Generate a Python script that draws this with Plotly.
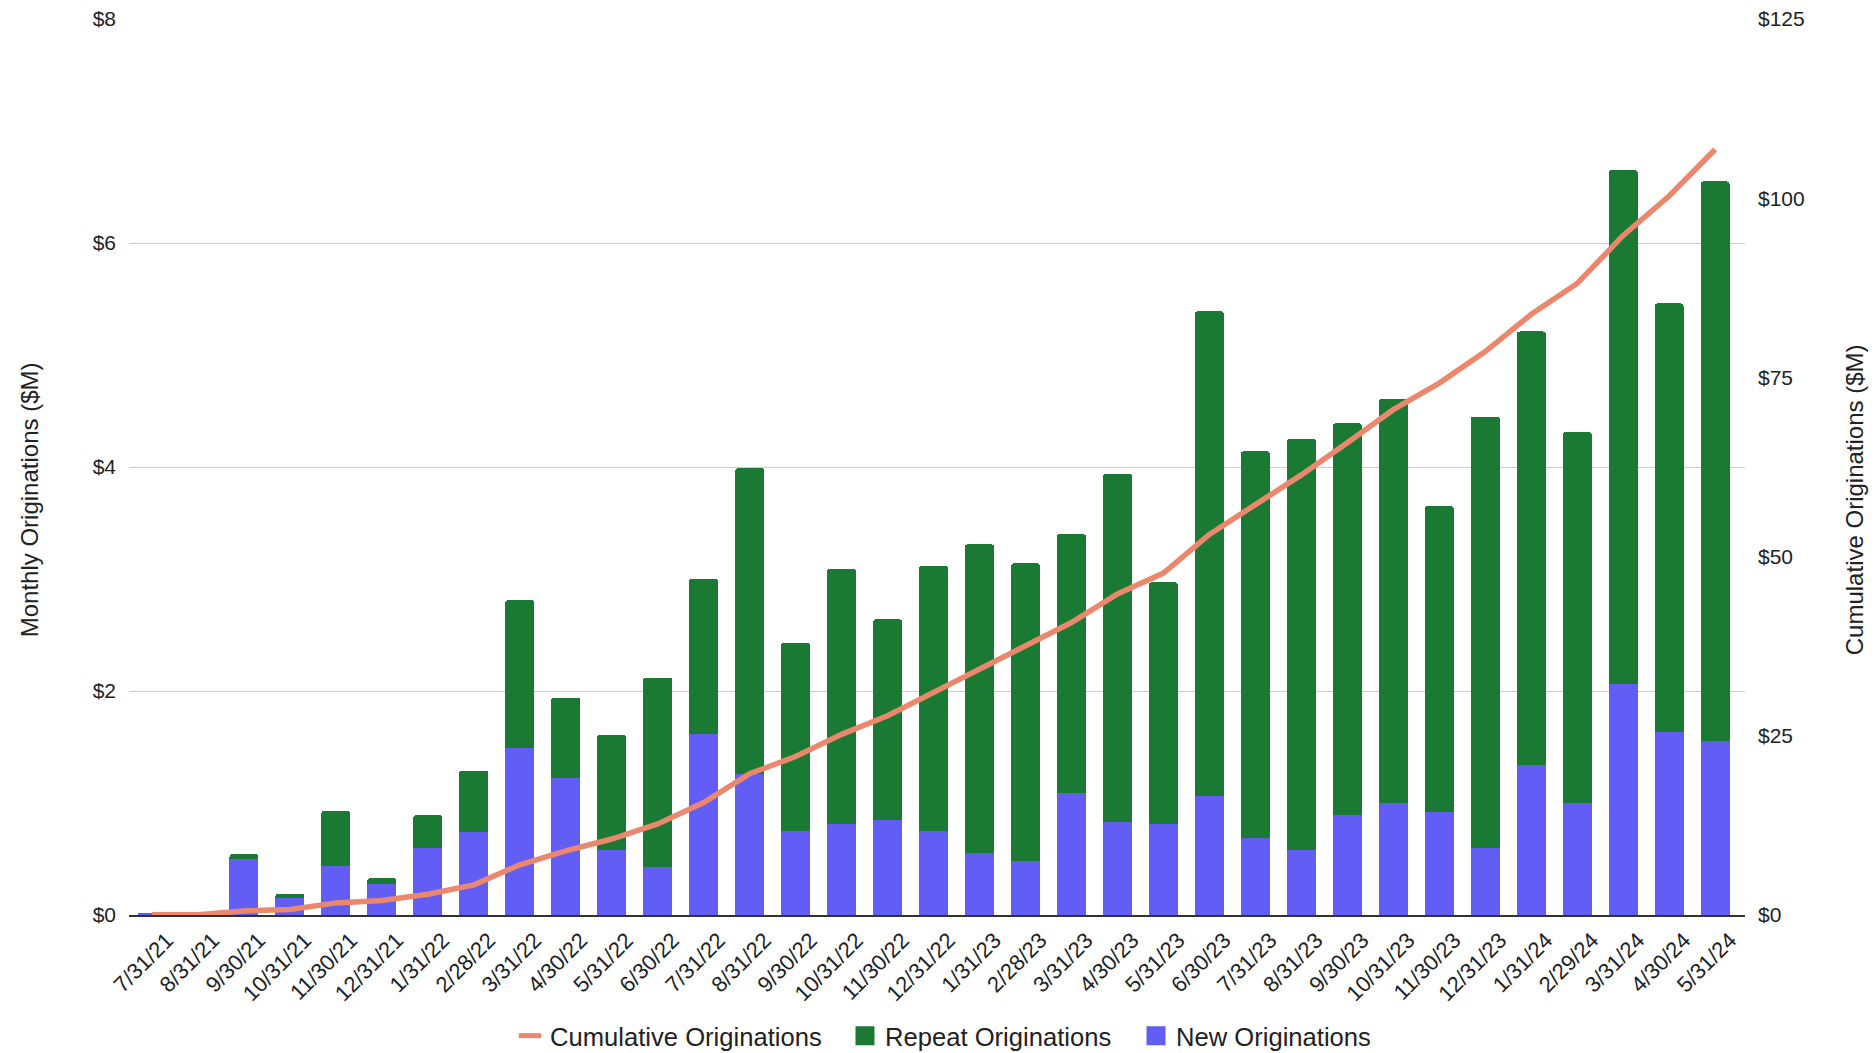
import plotly.graph_objects as go

# Month-end dates for each origination period
months = ["7/31/21", "8/31/21", "9/30/21", "10/31/21", "11/30/21", "12/31/21",
          "1/31/22", "2/28/22", "3/31/22", "4/30/22", "5/31/22", "6/30/22",
          "7/31/22", "8/31/22", "9/30/22", "10/31/22", "11/30/22", "12/31/22",
          "1/31/23", "2/28/23", "3/31/23", "4/30/23", "5/31/23", "6/30/23",
          "7/31/23", "8/31/23", "9/30/23", "10/31/23", "11/30/23", "12/31/23",
          "1/31/24", "2/29/24", "3/31/24", "4/30/24", "5/31/24"]

# Monthly originations ($M)
new_orig = [0.02, 0.00, 0.50, 0.15, 0.44, 0.28, 0.60, 0.74, 1.49, 1.22, 0.58, 0.43,
            1.62, 1.26, 0.75, 0.81, 0.85, 0.75, 0.55, 0.48, 1.09, 0.83, 0.81, 1.06,
            0.69, 0.58, 0.89, 1.00, 0.92, 0.60, 1.34, 1.00, 2.06, 1.63, 1.55]
repeat_orig = [0.00, 0.00, 0.045, 0.04, 0.49, 0.05, 0.29, 0.55, 1.32, 0.72, 1.03, 1.69,
               1.38, 2.73, 1.68, 2.28, 1.79, 2.37, 2.76, 2.66, 2.31, 3.11, 2.16, 4.33,
               3.45, 3.67, 3.50, 3.61, 2.73, 3.85, 3.87, 3.31, 4.59, 3.83, 5.00]

# Cumulative originations ($M)
cumulative = [0.02, 0.02, 0.57, 0.76, 1.69, 2.02, 2.9, 4.2, 7.0, 8.95, 10.6, 12.7,
              15.7, 19.7, 22.1, 25.2, 27.8, 31.0, 34.3, 37.4, 40.8, 44.8, 47.7, 53.1,
              57.2, 61.4, 65.9, 70.5, 74.2, 78.6, 83.8, 88.1, 94.8, 100.3, 106.8]

left_ticks = [0, 2, 4, 6, 8]
left_labels = ["$0", "$2", "$4", "$6", "$8"]
right_ticks = [0, 25, 50, 75, 100, 125]
right_labels = ["$0", "$25", "$50", "$75", "$100", "$125"]

GREEN = "#1a7a33"
BLUE = "#625df5"
SALMON = "#ea876d"
TEXT = "#222222"
FONT = "Arial, Liberation Sans, sans-serif"
W, H = 1876, 1053

fig = go.Figure()

fig.add_trace(go.Bar(x=months, y=new_orig, name="New Originations",
                     marker=dict(color=BLUE, line=dict(width=0)), showlegend=False))
fig.add_trace(go.Bar(x=months, y=repeat_orig, name="Repeat Originations",
                     marker=dict(color=GREEN, line=dict(width=0)), showlegend=False))
fig.add_trace(go.Scatter(x=months, y=cumulative, name="Cumulative Originations",
                         mode="lines", line=dict(color=SALMON, width=5.5),
                         yaxis="y2", showlegend=False))

# Legend entries, each in its own legend box so the spacing can be set
fig.add_trace(go.Scatter(x=[months[0]], y=[None], mode="markers", name="Cumulative Originations",
                         legend="legend",
                         marker=dict(symbol="line-ew-open", size=16, color=SALMON,
                                     line=dict(color=SALMON, width=6))))
fig.add_trace(go.Scatter(x=[months[0]], y=[None], mode="markers", name="Repeat Originations",
                         legend="legend2",
                         marker=dict(symbol="square", size=16, color=GREEN,
                                     line=dict(color=GREEN, width=3))))
fig.add_trace(go.Scatter(x=[months[0]], y=[None], mode="markers", name="New Originations",
                         legend="legend3",
                         marker=dict(symbol="square", size=16, color=BLUE,
                                     line=dict(color=BLUE, width=3))))


def legend_box(left_px):
    return dict(orientation="h", xref="container", yref="container",
                x=left_px / W, xanchor="left", y=(H - 1036) / H, yanchor="middle",
                font=dict(size=25.6, color=TEXT), itemsizing="trace",
                bgcolor="rgba(0,0,0,0)", borderwidth=0)


fig.update_layout(
    width=W, height=H,
    margin=dict(l=129, r=131, t=19, b=138),
    paper_bgcolor="white", plot_bgcolor="white",
    font=dict(family=FONT, color=TEXT),
    barmode="stack", bargap=0.37, barcornerradius=3,
    xaxis=dict(type="category", range=[-0.5, 34.65], tickangle=-45,
               tickfont=dict(size=22, color=TEXT), showgrid=False,
               showline=True, linecolor="#333333", linewidth=1.5,
               ticks="", automargin=False, ticklabelstandoff=2, ticklabelshift=15),
    yaxis=dict(range=[0, 8], tickmode="array", tickvals=left_ticks, ticktext=left_labels,
               tickfont=dict(size=21, color=TEXT), gridcolor="#cccccc", gridwidth=1,
               zeroline=False, showline=False, automargin=False, ticklabelstandoff=12),
    yaxis2=dict(range=[0, 125], tickmode="array", tickvals=right_ticks, ticktext=right_labels,
                overlaying="y", side="right", showgrid=False, zeroline=False, showline=False,
                tickfont=dict(size=21, color=TEXT), automargin=False,
                ticklabelstandoff=12),
    legend=legend_box(510),
    legend2=legend_box(845),
    legend3=legend_box(1136),
    annotations=[
        dict(text="Monthly Originations ($M)", textangle=-90, xref="paper", yref="paper",
             x=-0.0618, y=0.463, xanchor="center", yanchor="middle", showarrow=False,
             font=dict(size=24, color=TEXT)),
        dict(text="Cumulative Originations ($M)", textangle=-90, xref="paper", yref="paper",
             x=1.0675, y=0.463, xanchor="center", yanchor="middle", showarrow=False,
             font=dict(size=24, color=TEXT)),
    ],
)

fig.write_html("out.html")
